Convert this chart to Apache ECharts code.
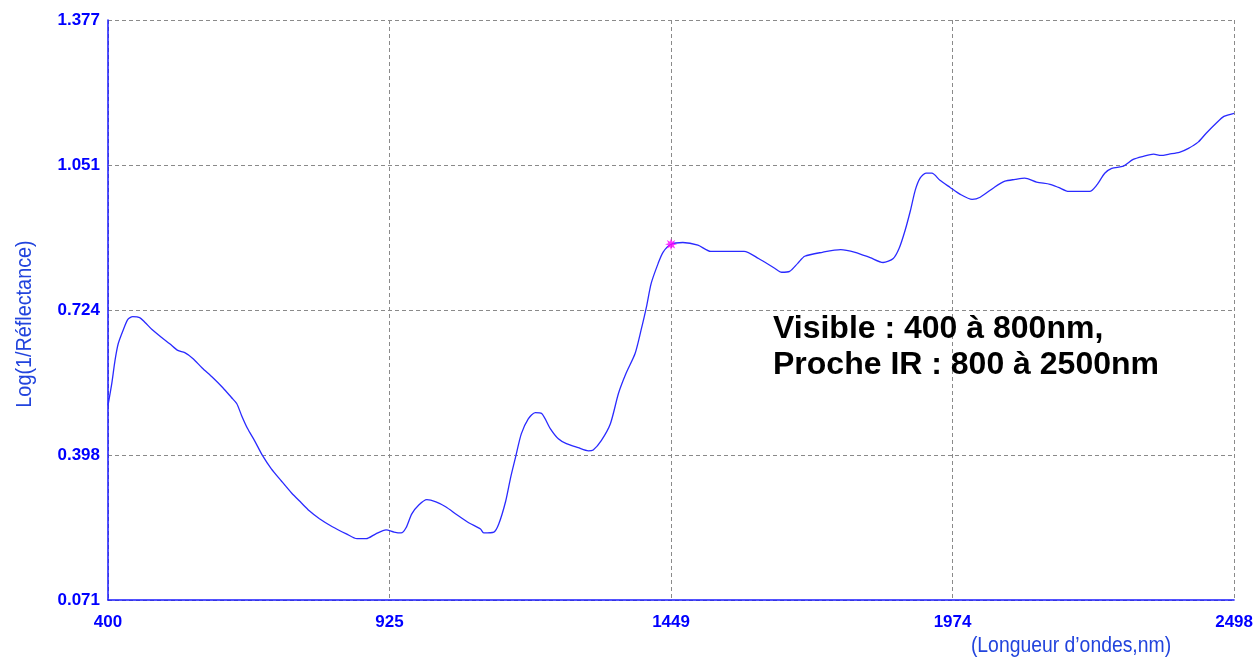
<!DOCTYPE html>
<html>
<head>
<meta charset="utf-8">
<script src="https://cdn.jsdelivr.net/npm/echarts@6/dist/echarts.min.js"></script>
<style>
html,body{margin:0;padding:0;background:#fff;}
#chart{width:1256px;height:658px;}
</style>
</head>
<body>
<div id="chart"></div>
<script>
const wavelengths = [400,407,413,419,428,437,446,459,469,482,500,515,530,543,558,575,595,614,630,640,
  649,660,673,688,704,723,742,760,775,794,818,844,864,881,899,918,933,946,955,966,
  979,994,1011,1029,1050,1072,1094,1100,1119,1128,1141,1150,1159,1170,1183,1196,1208,1224,1239,1254,
  1276,1295,1304,1319,1336,1351,1365,1382,1393,1403,1412,1425,1434,1449,1471,1499,1523,1585,1612,1642,
  1655,1670,1685,1698,1731,1765,1792,1820,1844,1863,1874,1885,1895,1904,1913,1924,1935,1950,1969,1987,
  2010,2025,2051,2071,2090,2108,2130,2155,2171,2190,2229,2242,2257,2270,2292,2310,2329,2348,2362,2377,
  2396,2413,2431,2446,2465,2479,2498];
const logInvR = [0.509,0.558,0.610,0.648,0.678,0.703,0.709,0.707,0.696,0.680,0.662,0.648,0.633,0.628,0.615,0.594,0.572,0.549,0.527,0.513,
  0.486,0.457,0.430,0.396,0.367,0.339,0.312,0.290,0.272,0.254,0.236,0.220,0.209,0.209,0.220,0.229,0.224,0.222,0.233,0.265,
  0.285,0.297,0.292,0.281,0.263,0.245,0.231,0.222,0.224,0.242,0.294,0.346,0.391,0.445,0.479,0.493,0.491,0.457,0.434,0.423,
  0.414,0.407,0.409,0.430,0.468,0.536,0.581,0.626,0.678,0.730,0.784,0.829,0.854,0.872,0.876,0.870,0.856,0.856,0.840,0.818,
  0.809,0.811,0.829,0.845,0.854,0.860,0.854,0.842,0.831,0.840,0.863,0.903,0.948,0.994,1.021,1.032,1.032,1.016,1.000,0.985,
  0.973,0.978,1.000,1.014,1.018,1.021,1.012,1.007,1.000,0.991,0.991,1.005,1.032,1.043,1.048,1.063,1.070,1.075,1.072,1.075,
  1.079,1.088,1.102,1.122,1.145,1.160,1.167];
const xTickLabels = ['400','925','1449','1974','2498'];
const yTickLabels = ['0.071','0.398','0.724','1.051','1.377'];
const markerWavelength = [1449];
const markerValue = [0.872];

const xMin = 400, xMax = 2498, xStep = (xMax - xMin) / 4;
const yMin = 0.071, yMax = 1.377, yStep = (yMax - yMin) / 4;

const lineData = wavelengths.map((w, i) => [w, logInvR[i]]);
const markerData = markerWavelength.map((w, i) => [w, markerValue[i]]);

const chart = echarts.init(document.getElementById('chart'), null, {renderer: 'canvas'});
const tickFont = {color: '#0000ff', fontWeight: 'bold', fontSize: 17, fontFamily: 'Liberation Sans, Arial, sans-serif'};
const gridLine = {show: true, lineStyle: {color: '#8a8a8a', type: [4, 3], width: 1}};
const nameColor = '#2244dd';

chart.setOption({
  animation: false,
  backgroundColor: '#ffffff',
  grid: {left: 108, right: 18, top: 20, bottom: 58, containLabel: false},
  xAxis: {
    type: 'value', min: xMin, max: xMax, interval: xStep,
    axisLine: {show: true, lineStyle: {color: '#1a1aff', width: 1.5}},
    axisTick: {show: false},
    splitLine: gridLine,
    axisLabel: Object.assign({margin: 14, formatter: v => xTickLabels[Math.round((v - xMin) / xStep)]}, tickFont)
  },
  yAxis: {
    type: 'value', min: yMin, max: yMax, interval: yStep,
    axisLine: {show: true, lineStyle: {color: '#1a1aff', width: 1.5}},
    axisTick: {show: false},
    splitLine: gridLine,
    axisLabel: Object.assign({margin: 8, formatter: v => yTickLabels[Math.round((v - yMin) / yStep)]}, tickFont)
  },
  graphic: [
    {type: 'text', left: 773, top: 311, z: 10,
      style: {text: 'Visible : 400 à 800nm,\nProche IR : 800 à 2500nm', fill: '#000', font: 'bold 32px Liberation Sans, Arial, sans-serif', lineHeight: 36}},
    {type: 'text', x: 1071, y: 646, scaleX: 0.88, z: 10,
      style: {text: '(Longueur d’ondes,nm)', fill: nameColor, font: '22px Liberation Sans, Arial, sans-serif', align: 'center', verticalAlign: 'middle'}},
    {type: 'text', x: 25, y: 324, rotation: Math.PI / 2, scaleX: 0.9, z: 10,
      style: {text: 'Log(1/Réflectance)', fill: nameColor, font: '22px Liberation Sans, Arial, sans-serif', align: 'center', verticalAlign: 'middle'}}
  ],
  series: [
    {type: 'line', data: lineData, showSymbol: false, smooth: 0.25,
      lineStyle: {color: '#2a2aff', width: 1.3}, z: 3},
    {type: 'scatter', data: markerData, z: 5,
      symbol: 'path://M5,0 L5.9,2.8 L8.5,1.5 L7.2,4.1 L10,5 L7.2,5.9 L8.5,8.5 L5.9,7.2 L5,10 L4.1,7.2 L1.5,8.5 L2.8,5.9 L0,5 L2.8,4.1 L1.5,1.5 L4.1,2.8 Z',
      symbolSize: 12, itemStyle: {color: '#ff00ff'}}
  ]
});
</script>
</body>
</html>
